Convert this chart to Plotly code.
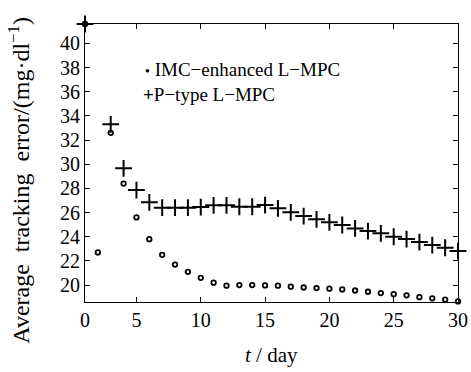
import plotly.graph_objects as go

days = list(range(1, 31))
imc = [41.6, 22.7, 32.6, 28.4, 25.6, 23.8, 22.5, 21.7, 21.1, 20.6,
       20.2, 19.95, 20.0, 20.0, 19.97, 19.95, 19.87, 19.8, 19.75, 19.7,
       19.64, 19.55, 19.45, 19.34, 19.25, 19.15, 19.0, 18.9, 18.8, 18.65]
ptype = [41.6, None, 33.3, 29.66, 27.86, 26.85, 26.4, 26.4, 26.4, 26.45,
         26.6, 26.6, 26.48, 26.48, 26.62, 26.35, 26.02, 25.71, 25.44, 25.19,
         24.97, 24.69, 24.47, 24.28, 24.0, 23.81, 23.56, 23.31, 23.09, 22.81]
xtick_vals = [1, 5, 10, 15, 20, 25, 30]
xtick_text = ["0", "5", "10", "15", "20", "25", "30"]
ytick_vals = [20, 22, 24, 26, 28, 30, 32, 34, 36, 38, 40]
series_names = ["IMC\u2212enhanced L\u2212MPC", "P\u2212type L\u2212MPC"]

FONT = "Liberation Serif"

fig = go.Figure()
fig.add_trace(go.Scatter(
    x=days, y=imc, mode="markers", name=series_names[0],
    marker=dict(symbol="circle-open", size=4.5, color="black", line=dict(width=1.8, color="black")),
    cliponaxis=False))
fig.add_trace(go.Scatter(
    x=days, y=ptype, mode="markers", name=series_names[1],
    marker=dict(symbol="cross-thin", size=12, color="black", line=dict(width=2, color="black")),
    cliponaxis=False))

axis_common = dict(showline=True, linecolor="black", linewidth=1.2, mirror="ticks",
                   ticks="inside", ticklen=5, tickcolor="black", showgrid=False,
                   zeroline=False, automargin=False,
                   tickfont=dict(family=FONT, size=20, color="black"))

fig.update_xaxes(range=[1, 30], tickvals=xtick_vals, ticktext=xtick_text, **axis_common)
fig.update_yaxes(range=[18.6, 41.6], tickvals=ytick_vals, **axis_common)

# axis titles
fig.add_annotation(xref="paper", yref="paper", x=0.5, y=-0.19, xanchor="center", yanchor="middle",
                   showarrow=False, text="<i>t</i> / day",
                   font=dict(family=FONT, size=21, color="black"))
fig.add_annotation(xref="paper", yref="paper", x=-0.177, y=0.44, xanchor="center", yanchor="middle",
                   showarrow=False, textangle=-90,
                   text="Average  tracking  error/(mg\u00b7dl<sup>\u22121</sup>)",
                   font=dict(family=FONT, size=24, color="black"))

# legend text
fig.add_annotation(xref="paper", yref="paper", x=0.155, y=0.835, xanchor="left", yanchor="middle",
                   showarrow=False,
                   text="<span style='font-size:14px'>\u2022</span> " + series_names[0],
                   font=dict(family=FONT, size=19, color="black"))
fig.add_annotation(xref="paper", yref="paper", x=0.15, y=0.748, xanchor="left", yanchor="middle",
                   showarrow=False, text="<b>+</b>" + series_names[1],
                   font=dict(family=FONT, size=19, color="black"))

fig.update_layout(
    width=471, height=372,
    margin=dict(l=85, r=13, t=24, b=70),
    paper_bgcolor="white", plot_bgcolor="white",
    showlegend=False,
)
fig.write_html("out.html", config={"displayModeBar": False},
               post_script="document.body.style.margin='0';")
